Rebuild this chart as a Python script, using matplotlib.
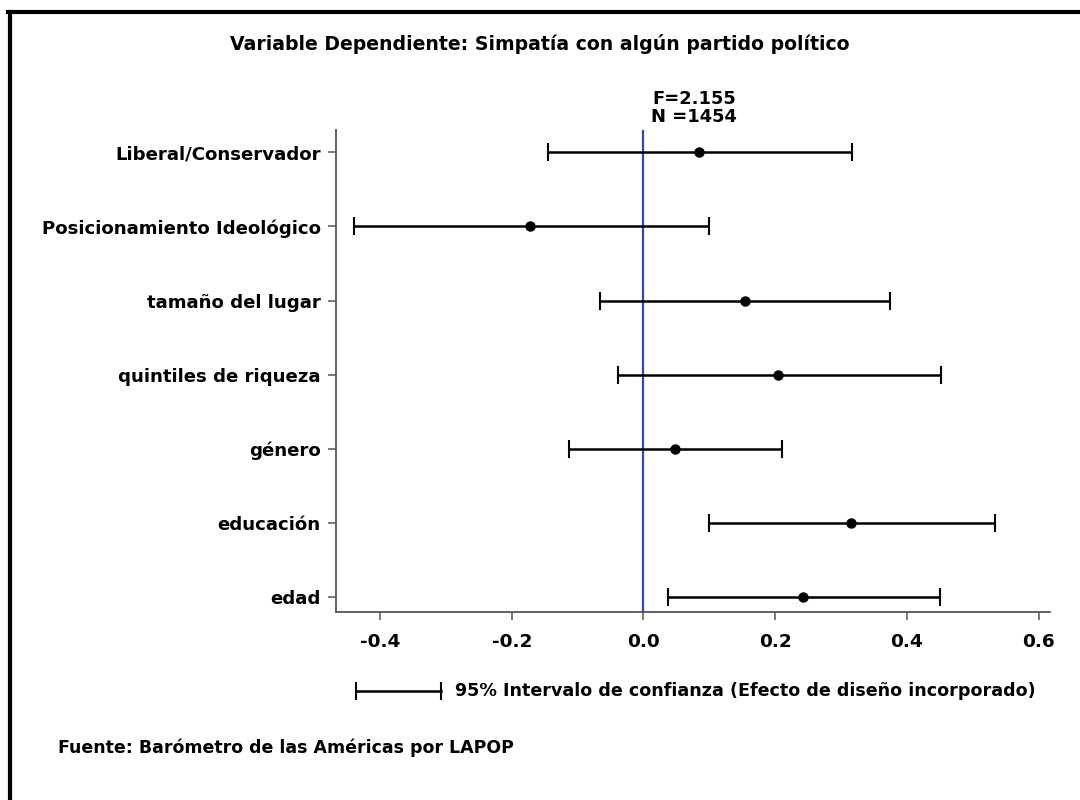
import matplotlib.pyplot as plt
from matplotlib.lines import Line2D

plt.rcParams['font.family'] = ['DejaVu Sans']
plt.rcParams['font.weight'] = 'bold'

# coefficients and 95% CI, top to bottom
variables = ['Liberal/Conservador', 'Posicionamiento Ideológico', 'tamaño del lugar',
             'quintiles de riqueza', 'género', 'educación', 'edad']
coef = [0.085, -0.172, 0.154, 0.205, 0.048, 0.315, 0.243]
ci_low = [-0.145, -0.440, -0.066, -0.039, -0.113, 0.099, 0.038]
ci_high = [0.317, 0.099, 0.375, 0.452, 0.211, 0.534, 0.450]
xticks = [-0.4, -0.2, 0.0, 0.2, 0.4, 0.6]

title = 'Variable Dependiente: Simpatía con algún partido político'
stats_text = 'F=2.155\nN =1454'
legend_text = '95% Intervalo de confianza (Efecto de diseño incorporado)'
source_text = 'Fuente: Barómetro de las Américas por LAPOP'

fig = plt.figure(figsize=(10.8, 8), dpi=100)
ax = fig.add_axes([0.311, 0.235, 0.661, 0.6025])

n = len(variables)
ypos = [n - 1 - i for i in range(n)]
err_lo = [c - l for c, l in zip(coef, ci_low)]
err_hi = [h - c for c, h in zip(coef, ci_high)]

ax.axvline(0, color='#2b4ea2', lw=1.6, zorder=1)
ax.errorbar(coef, ypos, xerr=[err_lo, err_hi], fmt='o', color='black', ms=6.5,
            elinewidth=1.8, capsize=6.5, capthick=1.5, zorder=3)

ax.set_xlim(-0.467, 0.617)
ax.set_ylim(-0.2, 6.3)
ax.set_yticks(ypos)
ax.set_yticklabels(variables, fontsize=13.1, fontweight='bold')
ax.set_xticks(xticks)
ax.set_xticklabels(['%.1f' % t for t in xticks], fontsize=13.3, fontweight='bold')
for s in ['top', 'right']:
    ax.spines[s].set_visible(False)
for s in ['left', 'bottom']:
    ax.spines[s].set_color('#555555')
    ax.spines[s].set_linewidth(1.3)
ax.tick_params(axis='both', length=6, width=1.1, color='#555555', pad=5)
ax.tick_params(axis='x', pad=9)

fig.text(0.5, 0.945, title, ha='center', va='center', fontsize=13.6, fontweight='bold')
fig.text(694 / 1080, 1 - 108 / 800, stats_text, ha='center', va='center', fontsize=12.9,
         fontweight='bold', linespacing=1.0)

# legend sample for the confidence interval
ly = 1 - 691 / 800
fig.add_artist(Line2D([356 / 1080, 441 / 1080], [ly, ly], color='black', lw=1.8,
                      marker='|', markersize=13, markeredgewidth=1.5,
                      markevery=[0, 1]))
fig.text(455 / 1080, ly, legend_text, ha='left', va='center', fontsize=12.6,
         fontweight='bold')
fig.text(58 / 1080, 1 - 748 / 800, source_text, ha='left', va='center',
         fontsize=12.5, fontweight='bold')

# outer frame (top and left edges)
fig.add_artist(Line2D([9.5 / 1080, 9.5 / 1080], [0, 1 - 12 / 800], color='black', lw=3))
fig.add_artist(Line2D([8 / 1080, 1], [1 - 12 / 800, 1 - 12 / 800], color='black', lw=3))

fig.savefig('out.png', dpi=100)
